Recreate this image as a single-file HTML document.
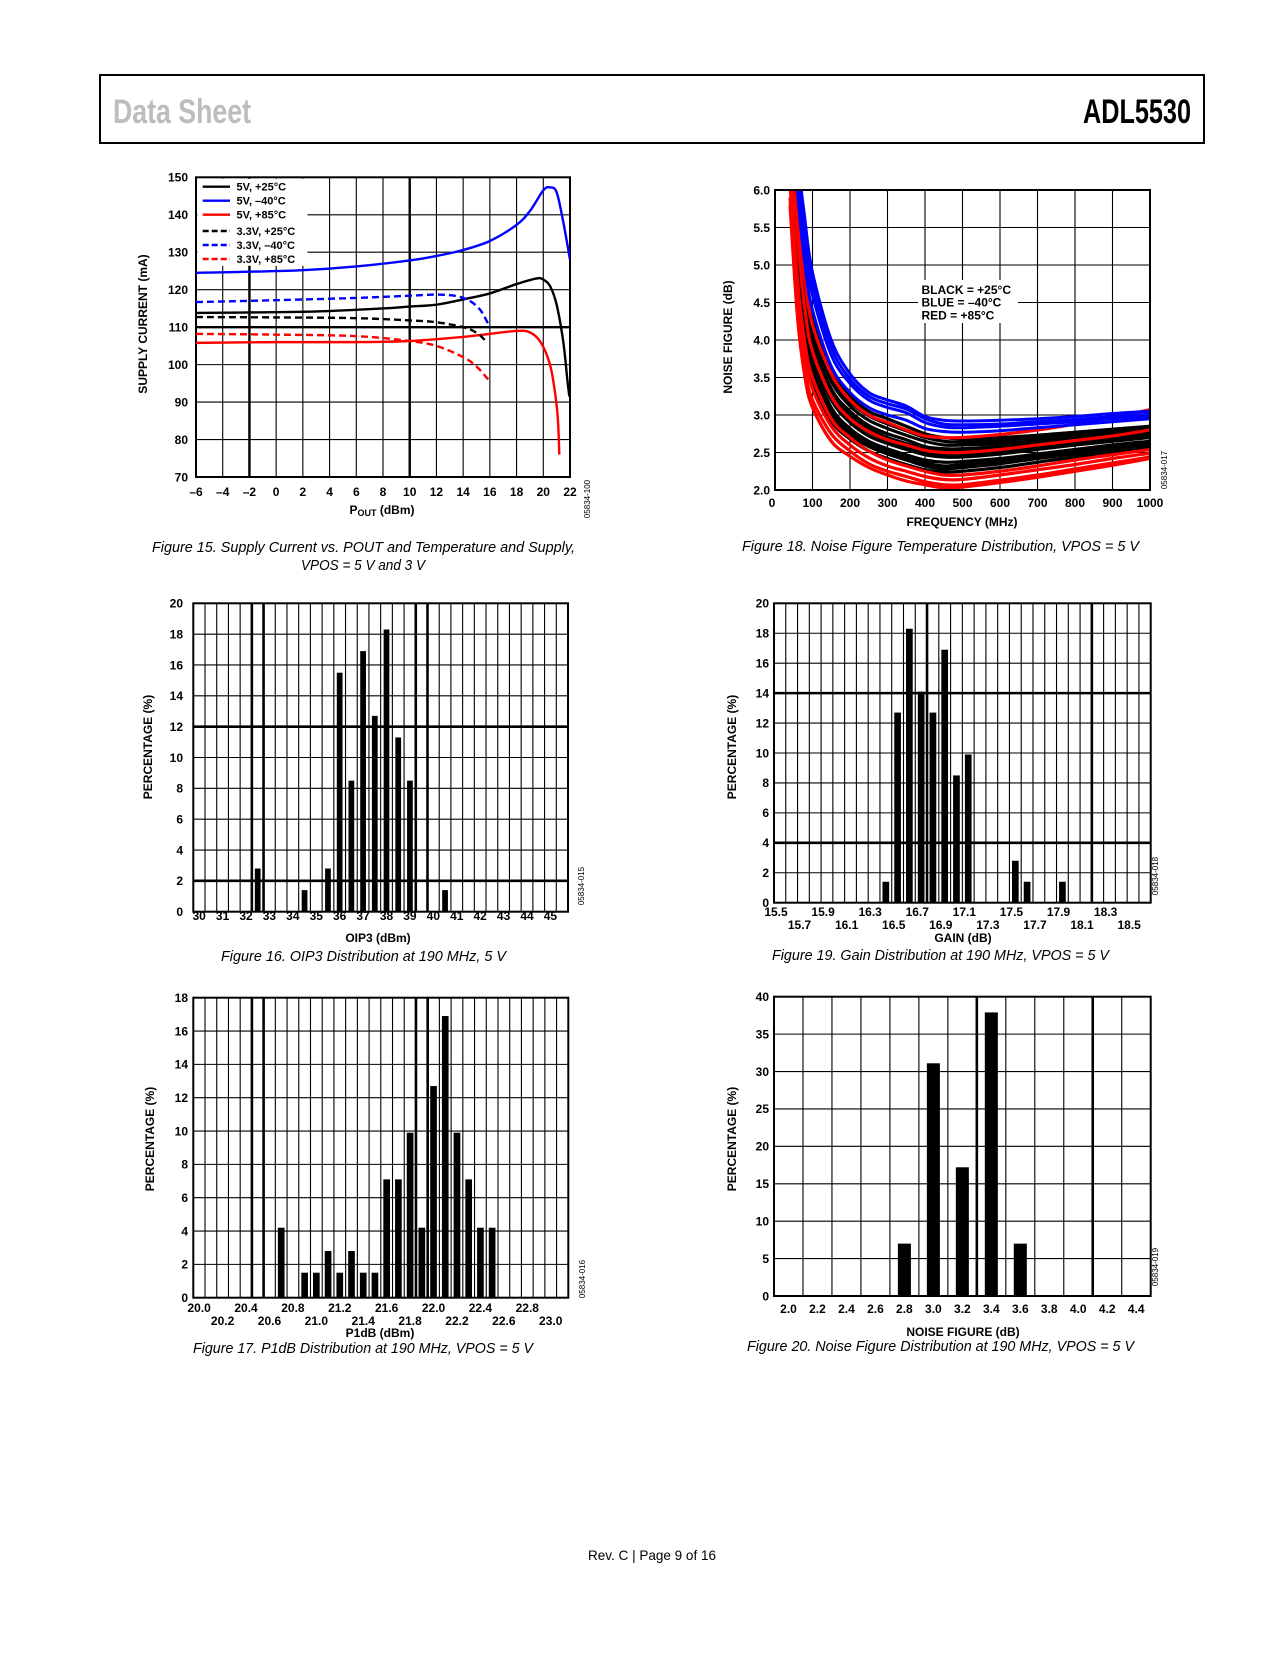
<!DOCTYPE html>
<html><head><meta charset="utf-8"><title>ADL5530 Data Sheet page 9</title>
<style>
html,body{margin:0;padding:0;background:#fff;}
body{width:1275px;height:1650px;overflow:hidden;position:relative;font-family:"Liberation Sans",Arial,sans-serif;}
svg text{font-family:"Liberation Sans",Arial,sans-serif;}
</style></head>
<body>
<svg id="page" width="1275" height="1650" viewBox="0 0 1275 1650" xmlns="http://www.w3.org/2000/svg">
  <rect x="100" y="75" width="1104" height="68" fill="none" stroke="#000" stroke-width="2"/>
  <text x="113" y="123" font-size="34" font-weight="bold" fill="#bdbdbd" textLength="138" lengthAdjust="spacingAndGlyphs">Data Sheet</text>
  <text x="1083" y="123" font-size="34" font-weight="bold" fill="#000" textLength="108" lengthAdjust="spacingAndGlyphs">ADL5530</text>

  <text x="152" y="552" font-size="15" font-style="italic" textLength="423" lengthAdjust="spacingAndGlyphs">Figure 15. Supply Current vs. POUT and Temperature and Supply,</text>
  <text x="301" y="570" font-size="15" font-style="italic" textLength="124" lengthAdjust="spacingAndGlyphs">VPOS = 5 V and 3 V</text>
  <text x="742" y="551" font-size="15" font-style="italic" textLength="397" lengthAdjust="spacingAndGlyphs">Figure 18. Noise Figure Temperature Distribution, VPOS = 5 V</text>
  <text x="221" y="961" font-size="15" font-style="italic" textLength="285" lengthAdjust="spacingAndGlyphs">Figure 16. OIP3 Distribution at 190 MHz, 5 V</text>
  <text x="772" y="960" font-size="15" font-style="italic" textLength="337" lengthAdjust="spacingAndGlyphs">Figure 19. Gain Distribution at 190 MHz, VPOS = 5 V</text>
  <text x="193" y="1353" font-size="15" font-style="italic" textLength="340" lengthAdjust="spacingAndGlyphs">Figure 17. P1dB Distribution at 190 MHz, VPOS = 5 V</text>
  <text x="747" y="1351" font-size="15" font-style="italic" textLength="387" lengthAdjust="spacingAndGlyphs">Figure 20. Noise Figure Distribution at 190 MHz, VPOS = 5 V</text>
  <text x="588" y="1560" font-size="14" textLength="128" lengthAdjust="spacingAndGlyphs">Rev. C | Page 9 of 16</text>
</svg>
<script>
// ===== Figure 15 data (supply current vs POUT) =====
const f15XTicks = [-6,-4,-2,0,2,4,6,8,10,12,14,16,18,20,22];
const f15YTicks = [70,80,90,100,110,120,130,140,150];
const f15Labels = ["5V, +25°C","5V, –40°C","5V, +85°C","3.3V, +25°C","3.3V, –40°C","3.3V, +85°C"];
const f15Colors = ["#000","#0000ff","#ff0000","#000","#0000ff","#ff0000"];
const f15Dashed = [false,false,false,true,true,true];
const f15_5v25 = [[-6,113.8],[0,114],[4,114.3],[8,115],[10,115.5],[12,116],[14,117.4],[16,119],[18,121.5],[19.5,123],[20,122.7],[20.5,121],[21,116],[21.5,106],[21.8,96],[21.95,91.5]];
const f15_5vm40 = [[-6,124.5],[-2,124.8],[2,125.2],[6,126.2],[10,127.8],[12,129],[14,130.6],[16,133],[18,137.3],[19,141],[20,146.5],[20.5,147.3],[21,146],[21.5,138],[22,128]];
const f15_5v85 = [[-6,105.8],[0,106],[6,106],[10,106.3],[14,107.4],[16,108.2],[18,109],[19,108.6],[19.8,106],[20.5,100],[20.9,92],[21.1,85],[21.2,76]];
const f15_3v25 = [[-6,112.7],[0,112.6],[6,112.4],[10,111.8],[12,111.3],[14,110],[15,108.5],[15.7,106.3]];
const f15_3vm40 = [[-6,116.7],[0,117.2],[6,117.8],[10,118.4],[12,118.7],[13.5,118.3],[14.5,117],[15.3,114.5],[16,110]];
const f15_3v85 = [[-6,108.2],[0,108],[6,107.6],[10,106.3],[12,105],[14,102],[15,99.5],[16,95.5]];
const f15Series = [f15_5v25,f15_5vm40,f15_5v85,f15_3v25,f15_3vm40,f15_3v85];

// ===== Figure 18 data (noise figure vs frequency) =====
const f18Freq = [40,60,80,100,150,200,250,300,350,400,450,500,600,700,800,900,1000];
const f18XTicks = [0,100,200,300,400,500,600,700,800,900,1000];
const f18YTicks = [2.0,2.5,3.0,3.5,4.0,4.5,5.0,5.5,6.0];
const f18Blue = [
 [9,6.6,5.6,4.9,4.0,3.55,3.3,3.2,3.12,2.98,2.93,2.92,2.93,2.95,2.98,3.02,3.05],
 [8.5,6.4,5.4,4.75,3.9,3.48,3.25,3.15,3.08,2.95,2.88,2.87,2.88,2.91,2.94,2.98,3.01],
 [8,6.2,5.2,4.6,3.8,3.42,3.2,3.1,3.03,2.9,2.84,2.83,2.85,2.88,2.91,2.95,2.98],
 [7.8,6.0,5.0,4.4,3.65,3.3,3.1,3.0,2.93,2.82,2.78,2.77,2.79,2.83,2.87,2.91,2.95]
];
const f18Black = [
 [7.6,5.9,4.9,4.3,3.6,3.25,3.05,2.95,2.85,2.75,2.7,2.68,2.7,2.73,2.77,2.81,2.85],
 [7.4,5.8,4.8,4.2,3.52,3.18,2.99,2.88,2.79,2.7,2.65,2.64,2.66,2.7,2.74,2.78,2.83],
 [7.3,5.7,4.7,4.1,3.45,3.12,2.93,2.82,2.73,2.65,2.6,2.6,2.62,2.66,2.7,2.75,2.8],
 [7.1,5.6,4.6,4.0,3.35,3.05,2.86,2.75,2.67,2.58,2.55,2.55,2.58,2.62,2.67,2.72,2.77],
 [7.0,5.5,4.5,3.95,3.3,3.0,2.82,2.7,2.62,2.55,2.52,2.52,2.55,2.6,2.65,2.7,2.75],
 [6.9,5.4,4.42,3.87,3.25,2.95,2.77,2.66,2.58,2.51,2.48,2.48,2.51,2.57,2.62,2.67,2.72],
 [6.8,5.3,4.35,3.8,3.2,2.9,2.72,2.62,2.54,2.47,2.44,2.44,2.48,2.54,2.6,2.65,2.7],
 [6.6,5.1,4.2,3.7,3.1,2.82,2.65,2.55,2.47,2.4,2.37,2.38,2.42,2.48,2.54,2.6,2.65],
 [6.5,5.0,4.12,3.62,3.05,2.78,2.61,2.51,2.43,2.36,2.32,2.34,2.38,2.45,2.51,2.57,2.62],
 [6.4,4.9,4.05,3.55,3.0,2.74,2.58,2.48,2.4,2.32,2.28,2.3,2.35,2.42,2.48,2.54,2.6],
 [6.2,4.7,3.9,3.45,2.92,2.68,2.52,2.42,2.34,2.27,2.24,2.25,2.3,2.37,2.44,2.5,2.56]
];
const f18Red = [
 [7.4,5.8,4.8,4.2,3.55,3.2,3.0,2.9,2.8,2.72,2.7,2.7,2.74,2.8,2.88,2.97,3.07],
 [6.9,5.4,4.4,3.85,3.25,2.95,2.78,2.67,2.6,2.53,2.5,2.5,2.54,2.6,2.66,2.72,2.8],
 [6.3,4.8,3.95,3.5,2.95,2.7,2.52,2.4,2.32,2.25,2.2,2.2,2.25,2.32,2.4,2.47,2.54],
 [6.1,4.6,3.8,3.35,2.85,2.6,2.43,2.32,2.25,2.18,2.14,2.14,2.2,2.27,2.34,2.42,2.49],
 [5.9,4.4,3.6,3.2,2.75,2.52,2.35,2.25,2.18,2.11,2.07,2.07,2.13,2.2,2.28,2.36,2.44],
 [5.8,4.3,3.5,3.1,2.65,2.45,2.3,2.2,2.12,2.07,2.03,2.04,2.1,2.17,2.25,2.33,2.42]
];

// ===== Figure 16 data (OIP3 histogram) =====
const f16Bins = [32.5,34.5,35.5,36,36.5,37,37.5,38,38.5,39,40.5];
const f16Pct = [2.8,1.4,2.8,15.5,8.5,16.9,12.7,18.3,11.3,8.5,1.4];
const f16XLabels = [30,31,32,33,34,35,36,37,38,39,40,41,42,43,44,45];
const f16YTicks = [0,2,4,6,8,10,12,14,16,18,20];

// ===== Figure 19 data (gain histogram) =====
const f19Bins = [16.45,16.55,16.65,16.75,16.85,16.95,17.05,17.15,17.55,17.65,17.95];
const f19Pct = [1.4,12.7,18.3,14.1,12.7,16.9,8.5,9.9,2.8,1.4,1.4];
const f19XLabelsRow1 = ["15.5","15.9","16.3","16.7","17.1","17.5","17.9","18.3"];
const f19XLabelsRow2 = ["15.7","16.1","16.5","16.9","17.3","17.7","18.1","18.5"];
const f19YTicks = [0,2,4,6,8,10,12,14,16,18,20];

// ===== Figure 17 data (P1dB histogram) =====
const f17Bins = [20.7,20.9,21.0,21.1,21.2,21.3,21.4,21.5,21.6,21.7,21.8,21.9,22.0,22.1,22.2,22.3,22.4,22.5];
const f17Pct = [4.2,1.5,1.5,2.8,1.5,2.8,1.5,1.5,7.1,7.1,9.9,4.2,12.7,16.9,9.9,7.1,4.2,4.2];
const f17XLabelsRow1 = ["20.0","20.4","20.8","21.2","21.6","22.0","22.4","22.8"];
const f17XLabelsRow2 = ["20.2","20.6","21.0","21.4","21.8","22.2","22.6","23.0"];
const f17YTicks = [0,2,4,6,8,10,12,14,16,18];

// ===== Figure 20 data (noise figure histogram) =====
const f20Bins = [2.8,3.0,3.2,3.4,3.6];
const f20Pct = [7,31.1,17.2,37.9,7];
const f20XLabels = ["2.0","2.2","2.4","2.6","2.8","3.0","3.2","3.4","3.6","3.8","4.0","4.2","4.4"];
const f20YTicks = [0,5,10,15,20,25,30,35,40];

const NS = "http://www.w3.org/2000/svg";
const svg = document.getElementById('page');
function mk(tag, attrs, parent){
  const e = document.createElementNS(NS, tag);
  for (const k in attrs) e.setAttribute(k, attrs[k]);
  (parent||svg).appendChild(e);
  return e;
}
function scale(d0,d1,r0,r1){ return v => r0 + (v-d0)/(d1-d0)*(r1-r0); }
function smooth(pts){
  let d = "M"+pts[0][0].toFixed(2)+","+pts[0][1].toFixed(2);
  for (let i=0;i<pts.length-1;i++){
    const p0=pts[i-1]||pts[i], p1=pts[i], p2=pts[i+1], p3=pts[i+2]||pts[i+1];
    const c1x=p1[0]+(p2[0]-p0[0])/6, c1y=p1[1]+(p2[1]-p0[1])/6;
    const c2x=p2[0]-(p3[0]-p1[0])/6, c2y=p2[1]-(p3[1]-p1[1])/6;
    d += " C"+c1x.toFixed(2)+","+c1y.toFixed(2)+" "+c2x.toFixed(2)+","+c2y.toFixed(2)+" "+p2[0].toFixed(2)+","+p2[1].toFixed(2);
  }
  return d;
}
function label(g, x, y, txt, anchor, size, name){
  const t = mk('text', {x:x, y:y, 'font-size':size||12, 'font-weight':'bold', 'text-anchor':anchor||'middle', fill:'#000'}, g);
  t.textContent = txt;
  
  
  return t;
}
function vlabel(g, x, y, txt, size, name, weight){
  const t = mk('text', {x:x, y:y, 'font-size':size||12, 'font-weight':weight||'bold', 'text-anchor':'middle', fill:'#000', transform:'rotate(-90 '+x+' '+y+')'}, g);
  t.textContent = txt;
  
  
  return t;
}

// ================= Figure 15 =================
(function(){
  const g = mk('g', {});
  
  
  const L=196,R=570,T=177.3,B=477;
  const xs = scale(-6,22,L,R), ys = scale(70,150,B,T);
  f15XTicks.forEach(v=>{
    const heavy = (v===-2||v===10);
    const ln = mk('line',{x1:xs(v),x2:xs(v),y1:T,y2:B,stroke:'#000','stroke-width':heavy?2.4:1.1},g);
    
    
    label(g, xs(v), 496, (v<0?'–'+(-v):String(v)), 'middle', 12, 'x-tick-label');
  });
  f15YTicks.forEach(v=>{
    const heavy = (v===110);
    const ln = mk('line',{x1:L,x2:R,y1:ys(v),y2:ys(v),stroke:'#000','stroke-width':heavy?2.4:1.1},g);
    
    
    label(g, 188, ys(v)+4.3, String(v), 'end', 12, 'y-tick-label');
  });
  const fr = mk('rect',{x:L,y:T,width:R-L,height:B-T,fill:'none',stroke:'#000','stroke-width':2},g);
  
  
  const lb = mk('rect',{x:L+1.5,y:T+1.5,width:110,height:87,fill:'#fff'},g);
  
  
  const cp = mk('clipPath',{id:'clip15'},g);
  mk('rect',{x:L,y:T,width:R-L,height:B-T},cp);
  f15Series.forEach((s,i)=>{
    const pts = s.map(p=>[xs(p[0]),ys(p[1])]);
    const p = mk('path',{d:smooth(pts),fill:'none',stroke:f15Colors[i],'stroke-width':2.4,'stroke-dasharray':f15Dashed[i]?'7,4':'none','clip-path':'url(#clip15)'},g);
    
    
  });
  const legRows=[186.7,200.7,214.7,231,245,259];
  f15Labels.forEach((lab,i)=>{
    const ln = mk('line',{x1:202.7,x2:230,y1:legRows[i],y2:legRows[i],stroke:f15Colors[i],'stroke-width':2.4,'stroke-dasharray':f15Dashed[i]?'6,3':'none'},g);
    
    
    label(g, 236.5, legRows[i]+4, lab, 'start', 11, 'legend-entry');
  });
  vlabel(g, 147, 324, 'SUPPLY CURRENT (mA)', 12, 'y-axis-title');
  const xt = mk('text',{x:382,y:514,'font-size':12,'font-weight':'bold','text-anchor':'middle'},g);
  
  
  xt.innerHTML = 'P<tspan font-size="9" dy="2">OUT</tspan><tspan dy="-2"> (dBm)</tspan>';
  vlabel(g, 590, 499, '05834-100', 8, 'figure-id', 'normal');
})();

// ================= Figure 18 =================
(function(){
  const g = mk('g', {});
  
  
  const L=775,R=1150,T=190,B=490;
  const xs = scale(0,1000,L,R), ys = scale(2,6,B,T);
  f18XTicks.forEach(v=>{
    const ln = mk('line',{x1:xs(v),x2:xs(v),y1:T,y2:B,stroke:'#000','stroke-width':1.1},g);
    
    
    label(g, xs(v)+(v===0?-3:0), 507, String(v), 'middle', 12, 'x-tick-label');
  });
  f18YTicks.forEach(v=>{
    const ln = mk('line',{x1:L,x2:R,y1:ys(v),y2:ys(v),stroke:'#000','stroke-width':1.1},g);
    
    
    label(g, 770, ys(v)+4.3, v.toFixed(1), 'end', 12, 'y-tick-label');
  });
  const cp = mk('clipPath',{id:'clip18'},g);
  mk('rect',{x:L,y:T,width:R-L,height:B-T},cp);
  const fams = [[f18Black,'#000','black-curve',3.2],[f18Red,'#ff0000','red-curve',3.2],[f18Blue,'#0000ff','blue-curve',3.0]];
  fams.forEach(f=>{
    f[0].forEach(arr=>{
      const pts = arr.map((v,i)=>[xs(f18Freq[i]),ys(v)]);
      const p = mk('path',{d:smooth(pts),fill:'none',stroke:f[1],'stroke-width':f[3],'clip-path':'url(#clip18)'},g);
      
      
    });
  });
  const bg = mk('rect',{x:918,y:280,width:100,height:43,fill:'#fff'},g);
  
  
  label(g, 921.5, 294, 'BLACK = +25°C', 'start', 12, 'annotation-black');
  label(g, 921.5, 306.7, 'BLUE = –40°C', 'start', 12, 'annotation-blue');
  label(g, 921.5, 319.5, 'RED = +85°C', 'start', 12, 'annotation-red');
  const fr = mk('rect',{x:L,y:T,width:R-L,height:B-T,fill:'none',stroke:'#000','stroke-width':2},g);
  
  
  vlabel(g, 732, 337, 'NOISE FIGURE (dB)', 12, 'y-axis-title');
  label(g, 962, 526, 'FREQUENCY (MHz)', 'middle', 12, 'x-axis-title');
  vlabel(g, 1167, 470, '05834-017', 8, 'figure-id', 'normal');
})();

// ================= Histogram helper =================
function hist(cfg, bins, pct, yTicks, name){
  const g = mk('g', {});
  
  
  const {L,R,T,B,xmin,xmax,ymax,nx,heavyX,heavyY,barFrac,yLabX} = cfg;
  const xs = scale(xmin,xmax,L,R), ys = scale(0,ymax,B,T);
  const step = (R-L)/nx;
  for (let i=0;i<=nx;i++){
    const x = L+i*step;
    const ln = mk('line',{x1:x,x2:x,y1:T,y2:B,stroke:'#000','stroke-width':heavyX.indexOf(i)>=0?2.6:1.1},g);
    
    
  }
  yTicks.forEach(v=>{
    const ln = mk('line',{x1:L,x2:R,y1:ys(v),y2:ys(v),stroke:'#000','stroke-width':heavyY.indexOf(v)>=0?2.6:1.1},g);
    
    
    label(g, yLabX, ys(v)+4.3, String(v), 'end', 12, 'y-tick-label');
  });
  const bw = step*barFrac;
  bins.forEach((b,i)=>{
    const r = mk('rect',{x:xs(b)-bw/2,y:ys(pct[i]),width:bw,height:B-ys(pct[i]),fill:'#000'},g);
    
    
  });
  const fr = mk('rect',{x:L,y:T,width:R-L,height:B-T,fill:'none',stroke:'#000','stroke-width':2},g);
  
  
  return {g,xs};
}

// ================= Figure 16 =================
(function(){
  const h = hist({L:193.3,R:568,T:603.3,B:911.7,xmin:29.75,xmax:45.75,ymax:20,nx:32,heavyX:[5,6,19,20],heavyY:[12,2],barFrac:0.49,yLabX:183},
    f16Bins, f16Pct, f16YTicks, 'oip3-histogram');
  f16XLabels.forEach(v=>label(h.g, h.xs(v), 920, String(v), 'middle', 12, 'x-tick-label'));
  label(h.g, 378, 942, 'OIP3 (dBm)', 'middle', 12, 'x-axis-title');
  vlabel(h.g, 152, 747, 'PERCENTAGE (%)', 12, 'y-axis-title');
  vlabel(h.g, 584, 886, '05834-015', 8, 'figure-id', 'normal');
})();

// ================= Figure 19 =================
(function(){
  const h = hist({L:774,R:1150.7,T:603.3,B:902.7,xmin:15.5,xmax:18.7,ymax:20,nx:32,heavyX:[13,27],heavyY:[14,4],barFrac:0.57,yLabX:769},
    f19Bins, f19Pct, f19YTicks, 'gain-histogram');
  f19XLabelsRow1.forEach(v=>label(h.g, h.xs(+v)+2, 916, v, 'middle', 12, 'x-tick-label'));
  f19XLabelsRow2.forEach(v=>label(h.g, h.xs(+v)+2, 929, v, 'middle', 12, 'x-tick-label'));
  label(h.g, 963, 942, 'GAIN (dB)', 'middle', 12, 'x-axis-title');
  vlabel(h.g, 736, 747, 'PERCENTAGE (%)', 12, 'y-axis-title');
  vlabel(h.g, 1158, 876, '05834-018', 8, 'figure-id', 'normal');
})();

// ================= Figure 17 =================
(function(){
  const h = hist({L:193.3,R:568.3,T:997.7,B:1297.7,xmin:19.95,xmax:23.15,ymax:18,nx:32,heavyX:[5,6,19,20],heavyY:[],barFrac:0.57,yLabX:188},
    f17Bins, f17Pct, f17YTicks, 'p1db-histogram');
  f17XLabelsRow1.forEach(v=>label(h.g, h.xs(+v), 1312, v, 'middle', 12, 'x-tick-label'));
  f17XLabelsRow2.forEach(v=>label(h.g, h.xs(+v), 1325, v, 'middle', 12, 'x-tick-label'));
  label(h.g, 380, 1337, 'P1dB (dBm)', 'middle', 12, 'x-axis-title');
  vlabel(h.g, 154, 1139, 'PERCENTAGE (%)', 12, 'y-axis-title');
  vlabel(h.g, 585, 1279, '05834-016', 8, 'figure-id', 'normal');
})();

// ================= Figure 20 =================
(function(){
  const h = hist({L:774,R:1150.7,T:996.7,B:1296,xmin:1.9,xmax:4.5,ymax:40,nx:13,heavyX:[7,11],heavyY:[],barFrac:0.45,yLabX:769},
    f20Bins, f20Pct, f20YTicks, 'noise-figure-histogram');
  f20XLabels.forEach(v=>label(h.g, h.xs(+v), 1313, v, 'middle', 12, 'x-tick-label'));
  label(h.g, 963, 1336, 'NOISE FIGURE (dB)', 'middle', 12, 'x-axis-title');
  vlabel(h.g, 736, 1139, 'PERCENTAGE (%)', 12, 'y-axis-title');
  vlabel(h.g, 1158, 1267, '05834-019', 8, 'figure-id', 'normal');
})();
</script>
</body></html>
